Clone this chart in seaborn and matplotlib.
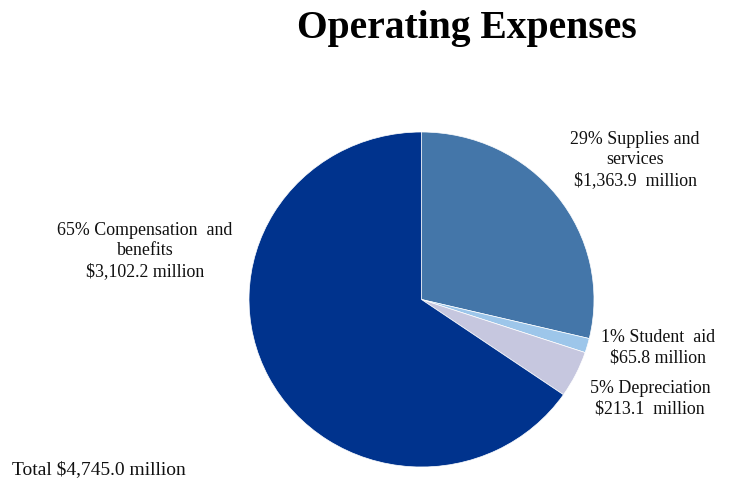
import matplotlib
matplotlib.use("Agg")
import matplotlib.pyplot as plt
import seaborn as sns

categories = ["Supplies and services", "Student aid", "Depreciation", "Compensation and benefits"]
values = [1363.9, 65.8, 213.1, 3102.2]
percents = [29, 1, 5, 65]
labels = [
    "29% Supplies and\nservices\n$1,363.9  million",
    "1% Student  aid\n$65.8 million",
    "5% Depreciation\n$213.1  million",
    "65% Compensation  and\nbenefits\n$3,102.2 million",
]
colors = ["#4476A9", "#9DC6EA", "#C6C7DF", "#00338D"]
title = "Operating Expenses"
total_label = "Total $4,745.0 million"

sns.set_theme(style="white")
plt.rcParams['font.family'] = ['Liberation Serif', 'DejaVu Serif']

W, H = 730, 481
fig = plt.figure(figsize=(W / 100, H / 100), dpi=100)
fig.patch.set_facecolor("white")

# pie axes in pixel placement
left, right, top, bottom = 249, 594, 133, 468
ax = fig.add_axes([left / W, (H - bottom) / H, (right - left) / W, (bottom - top) / H])
ax.pie(values, colors=colors, startangle=90, counterclock=False, radius=1,
       wedgeprops=dict(edgecolor="white", linewidth=0.5))
ax.set_aspect("auto")
ax.set_xlim(-1, 1)
ax.set_ylim(-1, 1)
ax.axis("off")

def px(x, y):
    return x / W, 1 - y / H

label_pos = [(635, 160), (658, 348), (650, 399), (145, 251)]
for lab, (x, y) in zip(labels, label_pos):
    fig.text(*px(x, y), lab, ha="center", va="center", fontsize=12.9,
             linespacing=1.3, color="#111111")

fig.text(*px(297, 29), title, ha="left", va="center", fontsize=28.5,
         fontweight="bold", color="black")
fig.text(*px(12, 470), total_label, ha="left", va="center", fontsize=14,
         color="#111111")

fig.savefig("out.png", dpi=100, facecolor="white")
